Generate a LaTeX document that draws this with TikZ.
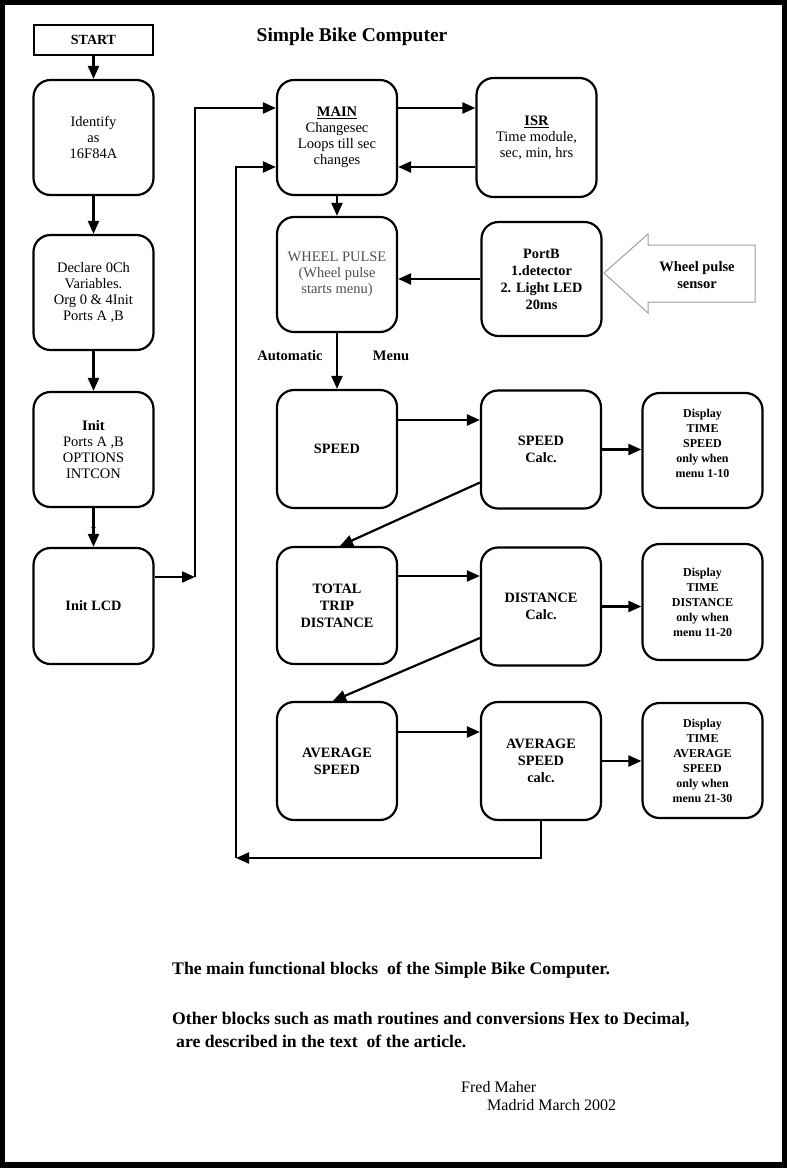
\documentclass[tikz,border=0pt]{standalone}
\usepackage{fontspec}
\setmainfont{Liberation Serif}
\usetikzlibrary{arrows.meta}
\definecolor{wheelgray}{RGB}{80,80,80}
\definecolor{sensorgray}{RGB}{160,160,160}
\tikzset{
  blk/.style = {align=center, inner sep=0pt, text centered, draw=black,
    line width=2.2pt, minimum width=120pt, minimum height=115pt,
    font=\fontsize{14.5}{16}\selectfont},
  blk_r/.style = {blk, rounded corners=17pt},% bloc arrondi
  blk_s/.style = {blk, rectangle, minimum width=119pt, minimum height=30pt,
    font=\bfseries\fontsize{14}{16}\selectfont},% bloc START
  blk_b/.style = {blk_r, font=\bfseries\fontsize{14.3}{17}\selectfont},% bloc gras
  blk_d/.style = {blk_r, font=\bfseries\fontsize{12}{15}\selectfont},% bloc affichage
  lbl/.style = {inner sep=0pt, font=\bfseries\fontsize{14.5}{17}\selectfont},
  note/.style = {inner sep=0pt, anchor=west, font=\bfseries\fontsize{17.7}{20}\selectfont},
  sig/.style = {inner sep=0pt, anchor=west, font=\fontsize{16}{18}\selectfont},
  flow/.style = {line width=2.2pt, -{Triangle[length=13pt,width=11pt]}}
}

\begin{document}
\begin{tikzpicture}[x=1pt, y=-1pt]
	% cadre
	\fill[black] (0,0) rectangle (787,1168);
	\fill[white] (5,5) rectangle (782,1162);
	\node[inner sep=0pt, font=\bfseries\fontsize{19.5}{22}\selectfont] (title) at (352,37) {Simple Bike Computer};
	% colonne de gauche
	\node[blk_s] (start) at (93.5,40) {START};
	\node[blk_r] (ident) at (93.5,137.5) {Identify\\as\\16F84A};
	\node[blk_r] (decl) at (93.5,292.5) {Declare 0Ch\\Variables.\\Org 0 \& 4Init\\Ports A ,B};
	\node[blk_r] (init) at (93.5,449.5) {\textbf{Init}\\Ports A ,B\\OPTIONS\\INTCON};
	\node[blk_b, minimum height=116pt] (lcd) at (93.5,606) {Init LCD};
	\node[inner sep=0pt, font=\fontsize{11}{11}\selectfont] (plus) at (93.5,528) {+};
	% boucle principale
	\node[blk_r] (main) at (337,137.5) {\textbf{\underline{MAIN}}\\Changesec\\Loops till sec\\changes};
	\node[blk_r, minimum height=119pt] (isr) at (536.5,137.5) {\textbf{\underline{ISR}}\\Time module,\\sec, min, hrs};
	\node[blk_r, text=wheelgray] (wheel) at (337,274.5) {WHEEL PULSE\\(Wheel pulse\\starts menu)};
	\node[blk_b, minimum height=114pt] (portb) at (541.5,279) {PortB\\1.detector\\2. Light LED\\20ms};
	\node[lbl] (auto) at (290,356) {Automatic};
	\node[lbl] (menu) at (391,356) {Menu};
	% capteur
	\draw[sensorgray, line width=1pt] (604,273) -- (648,234) -- (648,245) -- (755,245)
		-- (755,302) -- (648,302) -- (648,313) -- cycle;
	\node[lbl, align=center] (sensor) at (697,275) {Wheel pulse\\sensor};
	% menus
	\node[blk_b, minimum height=118pt] (speed) at (337,449) {SPEED};
	\node[blk_b, minimum height=118pt] (speedc) at (541,449.5) {SPEED\\Calc.};
	\node[blk_d] (dispa) at (702.5,450.5) {Display\\TIME\\SPEED\\only when\\menu 1-10\\[-1pt]};
	\node[blk_b, minimum height=117pt] (total) at (337,605.5) {TOTAL\\TRIP\\DISTANCE};
	\node[blk_b, minimum height=118pt] (distc) at (541,606.5) {DISTANCE\\Calc.};
	\node[blk_d, minimum height=116pt] (dispb) at (702.5,602) {Display\\TIME\\DISTANCE\\only when\\menu 11-20};
	\node[blk_b, minimum height=118pt] (avg) at (337,761) {AVERAGE\\SPEED};
	\node[blk_b, minimum height=118pt] (avgc) at (541,761) {AVERAGE\\SPEED\\calc.};
	\node[blk_d] (dispc) at (702.5,760.5) {Display\\TIME\\AVERAGE\\SPEED\\only when\\menu 21-30};
	% points de passage
	\coordinate (j1) at (195,577);
	\coordinate (j2) at (195,108);
	\coordinate (k1) at (541,858);
	\coordinate (k2) at (236,858);
	\coordinate (k3) at (236,167);
	% fleches
	\draw[flow] (start) -- (ident);
	\draw[flow] (ident) -- (decl);
	\draw[flow] (decl) -- (init);
	\draw[flow] (init) -- (lcd);
	\draw[flow] (lcd.east |- j1) -- (j1);
	\draw[flow] (j1) -- (j2) -- (j2 -| main.west);
	\draw[flow] ([yshift=29.5pt]main.east) -- ([yshift=29.5pt]main.east -| isr.west);
	\draw[flow] ([yshift=-29.5pt]isr.west) -- ([yshift=-29.5pt]isr.west -| main.east);
	\draw[flow] (main) -- (wheel);
	\draw[flow] (portb.west) -- (portb.west -| wheel.east);
	\draw[flow] (wheel) -- (speed);
	\draw[flow] ([yshift=29pt]speed.east) -- ([yshift=29pt]speed.east -| speedc.west);
	\draw[flow] (speedc.east) -- (speedc.east -| dispa.west);
	\draw[flow] ([yshift=-33pt]speedc.west) -- ([xshift=3pt]total.north);
	\draw[flow] ([yshift=29.5pt]total.east) -- ([yshift=29.5pt]total.east -| distc.west);
	\draw[flow] (distc.east) -- (distc.east -| dispb.west);
	\draw[flow] ([yshift=-31.5pt]distc.west) -- ([xshift=-4pt]avg.north);
	\draw[flow] ([yshift=29pt]avg.east) -- ([yshift=29pt]avg.east -| avgc.west);
	\draw[flow] (avgc.east) -- (avgc.east -| dispc.west);
	\draw[flow] (avgc.south) -- (k1) -- (k2);
	\draw[flow] (k2) -- (k3) -- (k3 -| main.west);
	% textes du bas
	\node[note] (cap1) at (172,970) {The main functional blocks\ \ of the Simple Bike Computer.};
	\node[note] (cap2) at (172,1020) {Other blocks such as math routines and conversions Hex to Decimal,};
	\node[note] (cap3) at (176,1041) {are described in the text\ \ of the article.};
	\node[sig] (auth) at (461,1087) {Fred Maher};
	\node[sig] (place) at (487,1105) {Madrid March 2002};
\end{tikzpicture}
\end{document}
